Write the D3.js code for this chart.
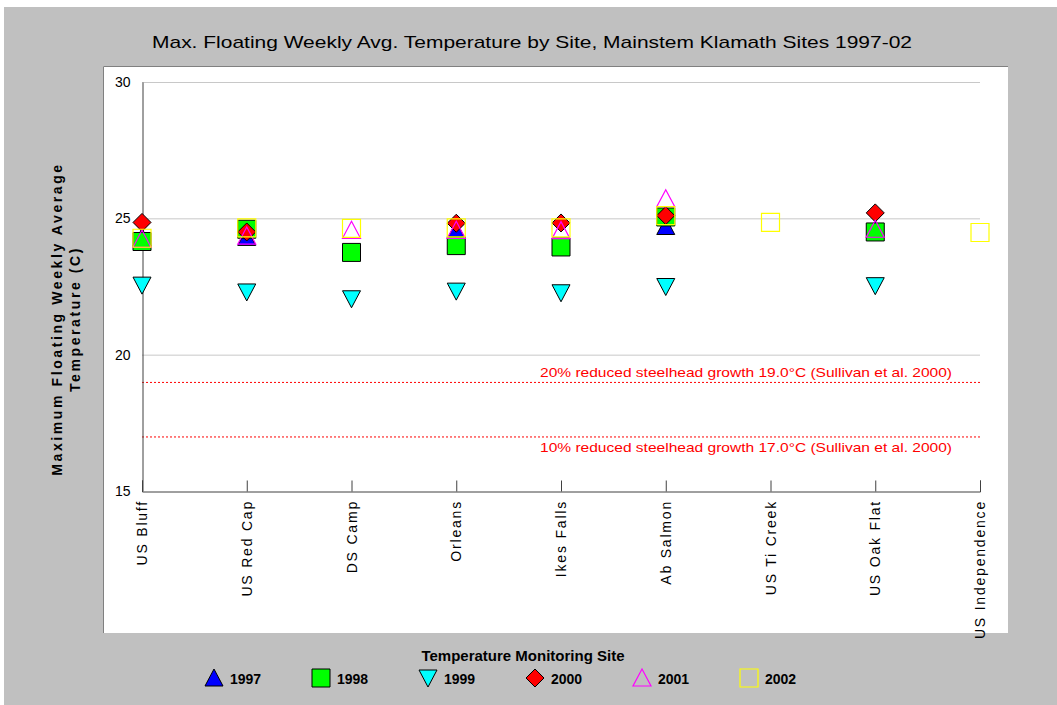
<!DOCTYPE html>
<html>
<head>
<meta charset="utf-8">
<script src="https://cdn.jsdelivr.net/npm/d3@7"></script>
<style>
  body { margin: 0; background: #fff; }
  text { font-family: "Liberation Sans", Arial, sans-serif; }
</style>
</head>
<body>
<div id="container"></div>
<script>
const sites = ['US Bluff', 'US Red Cap', 'DS Camp', 'Orleans', 'Ikes Falls',
  'Ab Salmon', 'US Ti Creek', 'US Oak Flat', 'US Independence'];
const years = ['1997', '1998', '1999', '2000', '2001', '2002'];
const y1997 = [24.3, 24.3, null, 24.55, null, 24.7, null, 24.6, null];
const y1998 = [24.15, 24.6, 23.75, 24.0, 23.95, 25.05, null, 24.5, null];
const y1999 = [22.55, 22.3, 22.05, 22.33, 22.27, 22.5, null, 22.53, null];
const y2000 = [24.85, 24.5, null, 24.82, 24.83, 25.1, null, 25.2, null];
const y2001 = [24.23, 24.35, 24.56, 24.56, 24.55, 25.72, null, 24.6, null];
const y2002 = [24.27, 24.65, 24.63, 24.65, 24.65, 25.1, 24.85, null, 24.48];
const yTicks = [15, 20, 25, 30];
const refLines = [
  { value: 19, label: '20% reduced steelhead growth 19.0°C (Sullivan et al. 2000)', above: true },
  { value: 17, label: '10% reduced steelhead growth 17.0°C (Sullivan et al. 2000)', above: false }
];

const series = [
  { year: '1997', values: y1997, shape: 'up', fill: '#0000ff', stroke: '#000' },
  { year: '1998', values: y1998, shape: 'square', fill: '#00ff00', stroke: '#000' },
  { year: '1999', values: y1999, shape: 'down', fill: '#00ffff', stroke: '#000' },
  { year: '2000', values: y2000, shape: 'diamond', fill: '#ff0000', stroke: '#000' },
  { year: '2001', values: y2001, shape: 'up', fill: 'none', stroke: '#ff00ff' },
  { year: '2002', values: y2002, shape: 'square', fill: 'none', stroke: '#ffff00' }
];

const w = 1057, h = 705;
const svg = d3.select('#container').append('svg').attr('width', w).attr('height', h);

// outer gray frame and white plot panel
svg.append('rect').attr('x', 4).attr('y', 7).attr('width', w - 4).attr('height', h - 7).attr('fill', '#c0c0c0');
svg.append('rect').attr('x', 103).attr('y', 66).attr('width', 905).attr('height', 567).attr('fill', '#fff');
svg.append('path').attr('d', 'M103.5,633V66.5H1008').attr('fill', 'none').attr('stroke', '#808080');

const x = d3.scalePoint().domain(sites).range([142, 980]);
const y = d3.scaleLinear().domain([15, 30]).range([491, 82]);

// grid
svg.append('g').selectAll('line').data(yTicks.filter(d => d > 15)).enter().append('line')
  .attr('x1', 142).attr('x2', 980).attr('y1', d => y(d) + 0.5).attr('y2', d => y(d) + 0.5)
  .attr('stroke', '#c8c8c8');

// reference lines
const ref = svg.append('g');
ref.selectAll('line').data(refLines).enter().append('line')
  .attr('x1', 142).attr('x2', 980).attr('y1', d => y(d.value) + 0.5).attr('y2', d => y(d.value) + 0.5)
  .attr('stroke', '#ff0000').attr('stroke-dasharray', '2,2');
ref.selectAll('text').data(refLines).enter().append('text')
  .attr('x', 952).attr('y', d => y(d.value) + (d.above ? -5 : 16))
  .attr('text-anchor', 'end').attr('fill', '#ff0000').attr('font-size', 13)
  .attr('textLength', 412).attr('lengthAdjust', 'spacingAndGlyphs')
  .text(d => d.label);

// y axis
const yAxis = svg.append('g').attr('transform', 'translate(142.5,0)')
  .call(d3.axisLeft(y).tickValues(yTicks).tickSize(0).tickPadding(12));
yAxis.select('.domain').attr('stroke', '#404040');
yAxis.selectAll('text').attr('font-size', 14).attr('fill', '#000')
  .attr('font-family', '"Liberation Sans Narrow", "Liberation Sans", Arial, sans-serif');

// x axis
const xAxis = svg.append('g').attr('transform', 'translate(0,491.5)')
  .call(d3.axisTop(x).tickSize(11).tickFormat(''));
xAxis.select('.domain').attr('stroke', '#404040');
xAxis.selectAll('line').attr('stroke', '#404040');
svg.append('g').selectAll('text').data(sites).enter().append('text')
  .attr('transform', d => `translate(${x(d) + 5},500) rotate(-90)`)
  .attr('text-anchor', 'end').attr('font-size', 14).attr('letter-spacing', 1.8)
  .attr('fill', '#000').text(d => d);

// marker shapes
function shapePath(shape, s) {
  const r = s / 2;
  if (shape === 'up') return `M0,${-r}L${r},${r - 1}L${-r},${r - 1}Z`;
  if (shape === 'down') return `M${-r},${-r + 1}L${r},${-r + 1}L0,${r}Z`;
  if (shape === 'diamond') return `M0,${-r}L${r},0L0,${r}L${-r},0Z`;
  return `M${-r},${-r}H${r}V${r}H${-r}Z`;
}

series.forEach(s => {
  const pts = s.values.map((v, i) => ({ site: sites[i], v })).filter(d => d.v != null);
  svg.append('g').selectAll('path').data(pts).enter().append('path')
    .attr('transform', d => `translate(${x(d.site)},${y(d.v)})`)
    .attr('d', shapePath(s.shape, 18))
    .attr('fill', s.fill).attr('stroke', s.stroke).attr('stroke-width', s.fill === 'none' ? 1.2 : 1);
});

// title
svg.append('text').attr('x', 532).attr('y', 48).attr('text-anchor', 'middle')
  .attr('font-size', 17).attr('textLength', 760).attr('lengthAdjust', 'spacingAndGlyphs')
  .text('Max. Floating Weekly Avg. Temperature by Site, Mainstem Klamath Sites 1997-02');

// axis titles
const yt = svg.append('text').attr('transform', 'translate(0,319) rotate(-90)')
  .attr('text-anchor', 'middle').attr('font-size', 14).attr('font-weight', 'bold')
  .attr('letter-spacing', 2.6);
yt.append('tspan').attr('x', 0).attr('y', 62).text('Maximum Floating Weekly Average');
yt.append('tspan').attr('x', 0).attr('y', 80).text('Temperature (C)');

svg.append('text').attr('x', 523).attr('y', 661).attr('text-anchor', 'middle')
  .attr('font-size', 15).attr('font-weight', 'bold').text('Temperature Monitoring Site');

// legend
const legend = svg.append('g').selectAll('g').data(series).enter().append('g')
  .attr('transform', (d, i) => `translate(${214 + i * 107},678)`);
legend.append('path').attr('d', d => shapePath(d.shape, 18))
  .attr('fill', d => d.fill).attr('stroke', d => d.stroke).attr('stroke-width', d => d.fill === 'none' ? 1.2 : 1);
legend.append('text').attr('x', 16).attr('y', 6).attr('font-size', 14).attr('font-weight', 'bold')
  .text(d => d.year);
</script>
</body>
</html>
